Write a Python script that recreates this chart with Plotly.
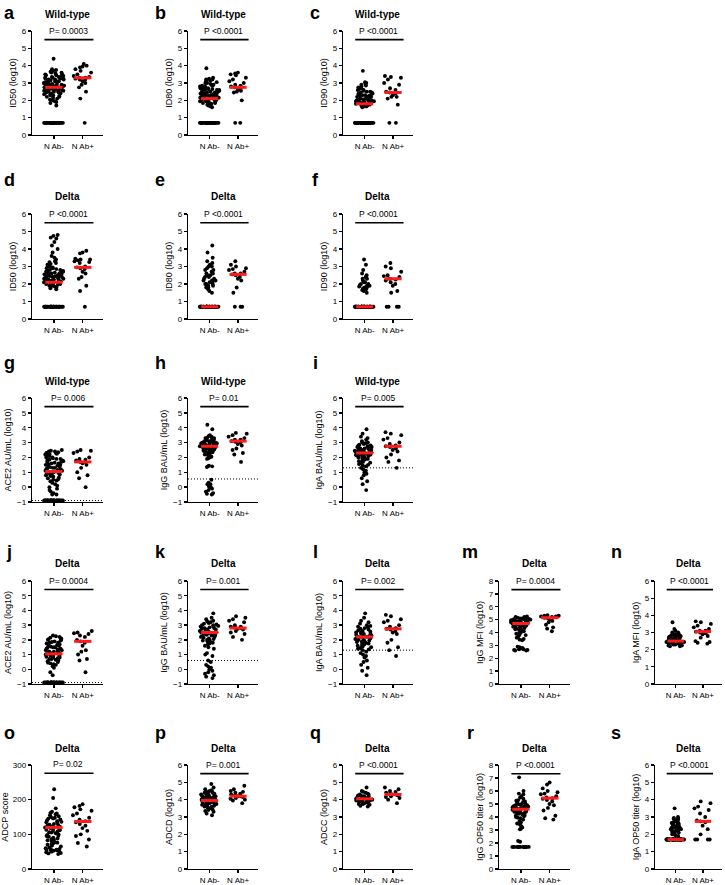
import plotly.graph_objects as go

# ---------------- data ----------------
groups = ["N Ab-", "N Ab+"]

a_neg = [4.4, 3.8, 3.75, 3.7, 3.7, 3.65, 3.6, 3.6, 3.55, 3.5, 3.5, 3.45, 3.45, 3.4, 3.4, 3.35, 3.35, 3.3, 3.3, 3.3,
         3.25, 3.25, 3.2, 3.2, 3.2, 3.15, 3.15, 3.1, 3.1, 3.1, 3.05, 3.05, 3.0, 3.0, 3.0, 3.0, 2.95, 2.95, 2.95, 2.9,
         2.9, 2.9, 2.9, 2.85, 2.85, 2.85, 2.8, 2.8, 2.8, 2.8, 2.75, 2.75, 2.75, 2.7, 2.7, 2.7, 2.7, 2.65, 2.65, 2.65,
         2.6, 2.6, 2.6, 2.55, 2.55, 2.55, 2.5, 2.5, 2.5, 2.45, 2.45, 2.4, 2.4, 2.35, 2.35, 2.3, 2.3, 2.25, 2.2, 2.2,
         2.15, 2.1, 2.05, 2.0, 1.95, 1.9, 1.85, 1.7] + [0.7] * 30
a_pos = [4.1, 4.0, 3.95, 3.9, 3.8, 3.7, 3.6, 3.5, 3.4, 3.35, 3.3, 3.3, 3.25, 3.2, 3.2, 3.1, 3.0, 2.9, 2.75, 2.5, 2.1, 0.7]

b_neg = [3.85, 3.3, 3.25, 3.2, 3.2, 3.15, 3.1, 3.05, 3.0, 3.0, 2.95, 2.9, 2.9, 2.85, 2.85, 2.8, 2.8, 2.75, 2.75, 2.7,
         2.7, 2.7, 2.65, 2.65, 2.6, 2.6, 2.6, 2.55, 2.55, 2.5, 2.5, 2.5, 2.45, 2.45, 2.4, 2.4, 2.4, 2.35, 2.35, 2.3,
         2.3, 2.3, 2.25, 2.25, 2.2, 2.2, 2.2, 2.15, 2.15, 2.1, 2.1, 2.1, 2.05, 2.05, 2.0, 2.0, 2.0, 1.95, 1.95, 1.9,
         1.9, 1.85, 1.85, 1.8, 1.8, 1.75, 1.7, 1.65, 1.6] + [0.7] * 32
b_pos = [3.6, 3.55, 3.5, 3.45, 3.3, 3.2, 3.1, 3.0, 2.9, 2.85, 2.8, 2.75, 2.7, 2.6, 2.55, 2.5, 2.45, 2.0, 0.7, 0.7]

c_neg = [3.7, 3.05, 3.0, 2.95, 2.9, 2.85, 2.8, 2.75, 2.7, 2.7, 2.65, 2.6, 2.6, 2.55, 2.5, 2.5, 2.45, 2.45, 2.4, 2.4,
         2.35, 2.35, 2.3, 2.3, 2.25, 2.25, 2.2, 2.2, 2.2, 2.15, 2.15, 2.1, 2.1, 2.05, 2.05, 2.0, 2.0, 2.0, 1.95, 1.95,
         1.95, 1.9, 1.9, 1.9, 1.85, 1.85, 1.85, 1.8, 1.8, 1.8, 1.75, 1.75, 1.7, 1.7, 1.65, 1.65, 1.6] + [0.7] * 35
c_pos = [3.4, 3.35, 3.3, 3.2, 3.0, 2.9, 2.7, 2.6, 2.5, 2.45, 2.4, 2.3, 2.2, 2.2, 2.1, 1.75, 0.7, 0.7]

d_neg = [4.8, 4.75, 4.65, 4.6, 4.4, 4.2, 4.0, 3.8, 3.6, 3.5, 3.4, 3.3, 3.25, 3.2, 3.15, 3.1, 3.05, 3.0, 3.0, 2.95,
         2.9, 2.9, 2.85, 2.8, 2.8, 2.75, 2.75, 2.7, 2.7, 2.65, 2.65, 2.6, 2.6, 2.6, 2.55, 2.55, 2.5, 2.5, 2.5, 2.45,
         2.45, 2.4, 2.4, 2.4, 2.35, 2.35, 2.3, 2.3, 2.3, 2.25, 2.25, 2.2, 2.2, 2.2, 2.15, 2.15, 2.1, 2.1, 2.05, 2.05,
         2.0, 2.0, 1.95, 1.95, 1.9, 1.9, 1.85, 1.8, 1.75, 1.7] + [0.7] * 30
d_pos = [3.9, 3.8, 3.75, 3.45, 3.4, 3.4, 3.35, 3.3, 3.25, 3.2, 3.0, 2.95, 2.9, 2.85, 2.7, 2.6, 2.4, 2.3, 1.9, 1.6, 0.7]

e_neg = [4.2, 3.8, 3.5, 3.3, 3.2, 3.1, 3.0, 3.0, 2.9, 2.8, 2.8, 2.7, 2.6, 2.6, 2.5, 2.5, 2.4, 2.4, 2.3, 2.3, 2.2,
         2.2, 2.2, 2.1, 2.1, 2.0, 2.0, 2.0, 1.9, 1.9, 1.8, 1.8, 1.7, 1.6, 1.5] + [0.7] * 40
e_pos = [3.3, 3.1, 3.0, 2.9, 2.85, 2.8, 2.7, 2.6, 2.6, 2.55, 2.5, 2.4, 2.3, 2.2, 1.8, 1.5, 0.7, 0.7, 0.7]

f_neg = [3.4, 3.1, 2.8, 2.6, 2.5, 2.4, 2.3, 2.3, 2.2, 2.1, 2.1, 2.0, 2.0, 1.95, 1.9, 1.9, 1.85, 1.8, 1.8, 1.75, 1.7,
         1.65, 1.6, 1.5] + [0.7] * 45
f_pos = [3.2, 3.0, 2.9, 2.7, 2.5, 2.45, 2.4, 2.3, 2.25, 2.2, 2.1, 2.0, 1.9, 1.6, 1.5, 0.7, 0.7, 0.7, 0.7]

g_neg = [2.5, 2.45, 2.4, 2.4, 2.35, 2.3, 2.3, 2.25, 2.2, 2.2, 2.15, 2.1, 2.05, 2.0, 2.0, 1.95, 1.9, 1.9, 1.85, 1.8,
         1.8, 1.75, 1.7, 1.7, 1.65, 1.6, 1.6, 1.55, 1.5, 1.5, 1.45, 1.4, 1.4, 1.35, 1.3, 1.3, 1.25, 1.2, 1.2, 1.15,
         1.1, 1.1, 1.05, 1.0, 1.0, 0.95, 0.9, 0.9, 0.85, 0.8, 0.8, 0.75, 0.7, 0.65, 0.6, 0.55, 0.5, 0.45, 0.4, 0.3,
         0.2, 0.1, 0.0, -0.1, -0.2, -0.3, -0.4, -0.5, -0.5] + [-0.9] * 25
g_pos = [2.5, 2.45, 2.4, 2.3, 2.0, 1.9, 1.85, 1.8, 1.7, 1.7, 1.6, 1.5, 1.3, 1.0, 0.8, 0.6, 0.0]

h_neg = [4.2, 3.9, 3.5, 3.45, 3.4, 3.35, 3.3, 3.3, 3.25, 3.2, 3.2, 3.15, 3.1, 3.1, 3.05, 3.0, 3.0, 3.0, 2.95, 2.95,
         2.9, 2.9, 2.9, 2.85, 2.85, 2.8, 2.8, 2.8, 2.75, 2.75, 2.75, 2.7, 2.7, 2.7, 2.65, 2.65, 2.6, 2.6, 2.55, 2.55,
         2.5, 2.5, 2.45, 2.4, 2.4, 2.35, 2.3, 2.25, 2.2, 2.15, 2.1, 2.05, 2.0, 1.95, 1.9, 1.45, 1.4, 1.4, 1.35, 0.5,
         0.3, 0.2, 0.2, 0.1, 0.0, 0.0, -0.1, -0.2, -0.3, -0.4, -0.45, -0.5]
h_pos = [3.65, 3.6, 3.5, 3.4, 3.3, 3.2, 3.2, 3.1, 3.05, 3.0, 2.9, 2.8, 2.6, 2.5, 2.3, 2.2, 1.7]

i_neg = [3.9, 3.6, 3.4, 3.3, 3.2, 3.1, 3.0, 3.0, 2.95, 2.9, 2.85, 2.8, 2.8, 2.75, 2.7, 2.7, 2.65, 2.6, 2.6, 2.55,
         2.5, 2.5, 2.5, 2.45, 2.45, 2.4, 2.4, 2.4, 2.35, 2.35, 2.3, 2.3, 2.3, 2.25, 2.25, 2.2, 2.2, 2.2, 2.15, 2.15,
         2.1, 2.1, 2.05, 2.0, 2.0, 1.95, 1.9, 1.9, 1.85, 1.8, 1.75, 1.7, 1.65, 1.6, 1.55, 1.5, 1.45, 1.4, 1.3, 1.2,
         1.1, 1.0, 0.9, 0.8, 0.6, 0.4, 0.2, -0.2]
i_pos = [3.7, 3.6, 3.5, 3.3, 3.2, 3.0, 2.9, 2.8, 2.75, 2.7, 2.6, 2.5, 2.4, 2.2, 2.0, 1.8, 1.7, 1.3]

j_neg = [2.3, 2.25, 2.2, 2.15, 2.1, 2.05, 2.0, 2.0, 1.95, 1.9, 1.85, 1.8, 1.8, 1.75, 1.7, 1.65, 1.6, 1.6, 1.55, 1.5,
         1.5, 1.45, 1.4, 1.4, 1.35, 1.3, 1.3, 1.25, 1.2, 1.2, 1.15, 1.1, 1.1, 1.05, 1.0, 1.0, 0.95, 0.9, 0.9, 0.85,
         0.8, 0.8, 0.75, 0.7, 0.7, 0.65, 0.6, 0.55, 0.5, 0.45, 0.4, 0.35, 0.3, 0.2, 0.1, -0.2, -0.4] + [-0.9] * 22
j_pos = [2.6, 2.5, 2.45, 2.4, 2.3, 2.2, 2.0, 1.9, 1.8, 1.6, 1.3, 1.2, 1.0, 0.7, 0.6, -0.2]

k_neg = [3.8, 3.5, 3.4, 3.3, 3.25, 3.2, 3.15, 3.1, 3.05, 3.0, 3.0, 2.95, 2.9, 2.9, 2.85, 2.8, 2.8, 2.75, 2.7, 2.7,
         2.65, 2.6, 2.6, 2.55, 2.5, 2.5, 2.5, 2.45, 2.4, 2.4, 2.35, 2.3, 2.3, 2.25, 2.2, 2.2, 2.15, 2.1, 2.05, 2.0,
         2.0, 1.95, 1.9, 1.85, 1.8, 1.75, 1.7, 1.6, 1.5, 1.4, 1.1, 1.0, 0.9, 0.6, 0.5, 0.3, 0.2, 0.1, 0.0, -0.1,
         -0.2, -0.3, -0.4, -0.5, -0.6]
k_pos = [3.6, 3.5, 3.4, 3.3, 3.2, 3.0, 2.9, 2.9, 2.85, 2.8, 2.75, 2.7, 2.6, 2.5, 2.4, 2.2, 2.0]

l_neg = [3.8, 3.5, 3.3, 3.2, 3.1, 3.0, 2.95, 2.9, 2.85, 2.8, 2.75, 2.7, 2.65, 2.6, 2.55, 2.5, 2.5, 2.45, 2.4, 2.4,
         2.35, 2.3, 2.3, 2.25, 2.2, 2.2, 2.2, 2.15, 2.1, 2.1, 2.05, 2.0, 2.0, 1.95, 1.9, 1.9, 1.85, 1.8, 1.8, 1.75,
         1.7, 1.65, 1.6, 1.55, 1.5, 1.45, 1.4, 1.35, 1.3, 1.2, 1.1, 1.0, 0.9, 0.8, 0.6, 0.5, 0.3, 0.1, -0.1, -0.4]
l_pos = [3.7, 3.6, 3.4, 3.3, 3.2, 3.0, 2.9, 2.8, 2.75, 2.7, 2.6, 2.5, 2.4, 2.0, 1.8, 1.5, 1.3, 0.9]

m_neg = [5.25, 5.2, 5.2, 5.15, 5.15, 5.1, 5.1, 5.05, 5.05, 5.0, 5.0, 5.0, 4.95, 4.95, 4.9, 4.9, 4.9, 4.85, 4.85, 4.8,
         4.8, 4.8, 4.75, 4.75, 4.7, 4.7, 4.7, 4.65, 4.65, 4.6, 4.6, 4.55, 4.55, 4.5, 4.5, 4.45, 4.4, 4.4, 4.35, 4.3,
         4.3, 4.25, 4.2, 4.15, 4.1, 4.0, 3.95, 3.9, 3.85, 3.8, 3.7, 3.6, 3.5, 3.45, 3.4, 2.9, 2.85, 2.8, 2.75, 2.7,
         2.7, 2.65, 2.65, 2.6, 2.6]
m_pos = [5.35, 5.3, 5.3, 5.25, 5.25, 5.2, 5.2, 5.15, 5.1, 5.1, 5.0, 4.9, 4.8, 4.6, 4.4, 4.3, 4.1]

n_neg = [3.6, 3.2, 3.1, 3.0, 3.0, 2.95, 2.9, 2.9, 2.85, 2.85, 2.8, 2.8, 2.75, 2.75, 2.7, 2.7, 2.7, 2.65, 2.65, 2.6,
         2.6, 2.6, 2.55, 2.55, 2.55, 2.5, 2.5, 2.5, 2.45, 2.45, 2.45, 2.4, 2.4, 2.4, 2.35, 2.35, 2.35, 2.3, 2.3, 2.3,
         2.25, 2.25, 2.2, 2.2]
n_pos = [3.65, 3.6, 3.5, 3.4, 3.3, 3.2, 3.1, 3.1, 3.05, 3.0, 2.95, 2.9, 2.8, 2.7, 2.5, 2.45, 2.4, 2.35]

o_neg = [230, 205, 175, 165, 162, 160, 158, 155, 152, 150, 148, 146, 145, 143, 140, 138, 136, 135, 133, 130, 128,
         127, 125, 123, 122, 120, 120, 118, 117, 115, 113, 112, 110, 108, 106, 105, 103, 100, 98, 96, 95, 93, 90, 88,
         86, 85, 83, 80, 78, 76, 75, 72, 70, 68, 65, 62, 60, 58, 57, 56, 55, 55, 54, 53, 52, 50, 48, 46, 45, 43]
o_pos = [187, 182, 178, 172, 168, 160, 155, 148, 142, 138, 135, 130, 125, 118, 110, 100, 95, 85, 75, 65]

p_neg = [4.9, 4.7, 4.6, 4.55, 4.5, 4.45, 4.4, 4.4, 4.35, 4.35, 4.3, 4.3, 4.25, 4.25, 4.2, 4.2, 4.2, 4.15, 4.15, 4.1,
         4.1, 4.1, 4.05, 4.05, 4.0, 4.0, 4.0, 3.95, 3.95, 3.95, 3.9, 3.9, 3.9, 3.85, 3.85, 3.8, 3.8, 3.8, 3.75, 3.75,
         3.7, 3.7, 3.65, 3.65, 3.6, 3.6, 3.55, 3.5, 3.5, 3.45, 3.4, 3.35, 3.3, 3.2, 3.1]
p_pos = [4.8, 4.6, 4.5, 4.45, 4.4, 4.35, 4.3, 4.25, 4.2, 4.2, 4.15, 4.1, 4.05, 4.0, 3.95, 3.8]

q_neg = [4.7, 4.5, 4.45, 4.4, 4.35, 4.3, 4.3, 4.25, 4.25, 4.2, 4.2, 4.2, 4.15, 4.15, 4.1, 4.1, 4.1, 4.05, 4.05, 4.05,
         4.0, 4.0, 4.0, 3.95, 3.95, 3.95, 3.9, 3.9, 3.85, 3.85, 3.8, 3.8, 3.75, 3.75, 3.7, 3.65, 3.6]
q_pos = [4.7, 4.6, 4.5, 4.45, 4.4, 4.35, 4.3, 4.3, 4.25, 4.2, 4.15, 4.1, 4.0, 3.8]

r_neg = [7.05, 6.0, 5.8, 5.75, 5.6, 5.5, 5.4, 5.3, 5.25, 5.2, 5.15, 5.1, 5.05, 5.0, 5.0, 4.95, 4.9, 4.9, 4.85, 4.8,
         4.8, 4.75, 4.75, 4.7, 4.7, 4.65, 4.65, 4.6, 4.6, 4.55, 4.55, 4.5, 4.5, 4.45, 4.4, 4.4, 4.35, 4.3, 4.3, 4.25,
         4.2, 4.15, 4.1, 4.05, 4.0, 3.95, 3.9, 3.8, 3.7, 3.6, 3.5, 3.4, 3.3, 3.2, 3.1, 3.05, 2.15, 2.1] + [1.7] * 16
r_pos = [6.65, 6.5, 6.2, 6.0, 5.9, 5.8, 5.75, 5.6, 5.5, 5.45, 5.4, 5.3, 5.2, 5.0, 4.9, 4.7, 4.5, 4.1, 3.9, 3.8]

s_neg = [3.5, 3.0, 2.95, 2.9, 2.9, 2.85, 2.8, 2.75, 2.7, 2.7, 2.65, 2.6, 2.6, 2.55, 2.5, 2.5, 2.45, 2.4, 2.4, 2.4,
         2.35, 2.3, 2.3, 2.3, 2.25, 2.2, 2.2, 2.2, 2.15, 2.1, 2.1, 2.05, 2.0, 2.0, 1.95, 1.9] + [1.7] * 40
s_pos = [3.9, 3.8, 3.6, 3.5, 3.4, 3.2, 3.0, 2.8, 2.75, 2.7, 2.5, 2.3, 2.0, 1.7, 1.7, 1.7, 1.7]

# medians (red bars): [N Ab-, N Ab+]
medians = {
    "a": [2.75, 3.3], "b": [2.1, 2.75], "c": [1.8, 2.45], "d": [2.1, 2.95], "e": [0.7, 2.55], "f": [0.7, 2.3],
    "g": [1.05, 1.7], "h": [2.75, 3.1], "i": [2.3, 2.75], "j": [1.05, 1.9], "k": [2.5, 2.8], "l": [2.2, 2.75],
    "m": [4.7, 5.15], "n": [2.5, 3.05], "o": [120, 137], "p": [3.95, 4.2], "q": [4.05, 4.3], "r": [4.6, 5.45],
    "s": [1.7, 2.75],
}
p_texts = {
    "a": "P= 0.0003", "b": "P <0.0001", "c": "P <0.0001", "d": "P <0.0001", "e": "P <0.0001", "f": "P <0.0001",
    "g": "P= 0.006", "h": "P= 0.01", "i": "P= 0.005", "j": "P= 0.0004", "k": "P= 0.001", "l": "P= 0.002",
    "m": "P= 0.0004", "n": "P <0.0001", "o": "P= 0.02", "p": "P= 0.001", "q": "P <0.0001", "r": "P <0.0001",
    "s": "P <0.0001",
}
y_titles = {
    "a": "ID50 (log10)", "b": "ID80 (log10)", "c": "ID90 (log10)", "d": "ID50 (log10)", "e": "ID80 (log10)",
    "f": "ID90 (log10)", "g": "ACE2 AU/mL (log10)", "h": "IgG BAU/mL (log10)", "i": "IgA BAU/mL (log10)",
    "j": "ACE2 AU/mL (log10)", "k": "IgG BAU/mL (log10)", "l": "IgA BAU/mL (log10)", "m": "IgG MFI (log10)",
    "n": "IgA MFI (log10)", "o": "ADCP score", "p": "ADCD (log10)", "q": "ADCC (log10)",
    "r": "IgG OP50 titer (log10)", "s": "IgA OP50 titer (log10)",
}
variants = {
    "a": "Wild-type", "b": "Wild-type", "c": "Wild-type", "d": "Delta", "e": "Delta", "f": "Delta",
    "g": "Wild-type", "h": "Wild-type", "i": "Wild-type", "j": "Delta", "k": "Delta", "l": "Delta",
    "m": "Delta", "n": "Delta", "o": "Delta", "p": "Delta", "q": "Delta", "r": "Delta", "s": "Delta",
}
# y-axis ranges, tick step, p-bar level, limit-of-detection line
y_ranges = {k: (0, 6) for k in "abcdefnpqs"}
y_ranges.update({k: (-1, 6) for k in "ghijkl"})
y_ranges.update({"m": (0, 8), "r": (0, 8), "o": (0, 300)})
y_dticks = {k: 1 for k in "abcdefghijklmnpqrs"}
y_dticks["o"] = 100
p_levels = {k: 5.5 for k in "abcdefnpqs"}
p_levels.update({k: 5.42 for k in "ghijkl"})
p_levels.update({"m": 7.33, "r": 7.33, "o": 276})
lod_lines = {"g": -0.9, "h": 0.55, "i": 1.3, "j": -0.9, "k": 0.6, "l": 1.3}

values = {
    "a": (a_neg, a_pos), "b": (b_neg, b_pos), "c": (c_neg, c_pos), "d": (d_neg, d_pos), "e": (e_neg, e_pos),
    "f": (f_neg, f_pos), "g": (g_neg, g_pos), "h": (h_neg, h_pos), "i": (i_neg, i_pos), "j": (j_neg, j_pos),
    "k": (k_neg, k_pos), "l": (l_neg, l_pos), "m": (m_neg, m_pos), "n": (n_neg, n_pos), "o": (o_neg, o_pos),
    "p": (p_neg, p_pos), "q": (q_neg, q_pos), "r": (r_neg, r_pos), "s": (s_neg, s_pos),
}
grid_pos = {
    "a": (0, 0), "b": (0, 1), "c": (0, 2), "d": (1, 0), "e": (1, 1), "f": (1, 2), "g": (2, 0), "h": (2, 1),
    "i": (2, 2), "j": (3, 0), "k": (3, 1), "l": (3, 2), "m": (3, 3), "n": (3, 4), "o": (4, 0), "p": (4, 1),
    "q": (4, 2), "r": (4, 3), "s": (4, 4),
}

# ---------------- layout (page pixels) ----------------
W, H = 725, 885
COLS = [(32, 103), (188, 258), (343, 413), (499, 570), (655, 722)]
ROWS = [(31, 135), (214, 319), (398, 502), (581, 684), (765, 869)]
TITLE_Y = [14, 197, 382, 563, 748]
LETTER_Y = [13, 180, 363, 552, 733]
LETTER_X = [9, 160, 315, 470, 616]
FONT = "Liberation Sans, Arial, sans-serif"
X_RANGE = [-0.76, 1.7]
MED_HALF = 0.3
BAR_X = (-0.33, 1.37)


def fx(px):
    return px / W


def fy(py):
    return 1 - py / H


fig = go.Figure()
layout = dict(
    width=W, height=H, margin=dict(l=0, r=0, t=0, b=0, autoexpand=False),
    paper_bgcolor="white", plot_bgcolor="white", showlegend=False,
    font=dict(family=FONT, color="black", size=8),
    boxmode="overlay",
)
annotations = []
shapes = []

for idx, key in enumerate("abcdefghijklmnopqrs"):
    n = idx + 1
    xa = "x" if n == 1 else f"x{n}"
    ya = "y" if n == 1 else f"y{n}"
    r, c = grid_pos[key]
    x0, x1 = COLS[c]
    yt, yb = ROWS[r]
    neg, pos = values[key]
    ymin, ymax = y_ranges[key]

    for gi, vals in enumerate((neg, pos)):
        fig.add_trace(go.Box(
            y=vals, x=[gi] * len(vals), xaxis=xa, yaxis=ya,
            boxpoints="all", jitter=1, pointpos=0, width=0.7,
            fillcolor="rgba(0,0,0,0)", line=dict(width=0, color="rgba(0,0,0,0)"),
            marker=dict(color="black", size=3.9), hoverinfo="y",
        ))
    for gi, m in enumerate(medians[key]):
        fig.add_trace(go.Scatter(
            x=[gi - MED_HALF, gi + MED_HALF], y=[m, m], mode="lines", xaxis=xa, yaxis=ya,
            line=dict(color="#ff1a1a", width=3), hoverinfo="skip", cliponaxis=False,
        ))

    layout["xaxis" if n == 1 else f"xaxis{n}"] = dict(
        domain=[fx(x0), min(fx(x1), 1.0)], anchor=ya, range=X_RANGE, automargin=False,
        tickvals=[0, 1], ticktext=groups, showgrid=False, zeroline=False,
        showline=True, linecolor="black", linewidth=1.3, ticks="outside", ticklen=3,
        tickwidth=1.3, tickcolor="black", tickfont=dict(size=8, color="black"), fixedrange=True,
    )
    layout["yaxis" if n == 1 else f"yaxis{n}"] = dict(
        domain=[fy(yb), fy(yt)], anchor=xa, range=[ymin, ymax], dtick=y_dticks[key],
        tick0=ymin, showgrid=False, zeroline=False, showline=True, linecolor="black", automargin=False,
        linewidth=1.3, ticks="outside", ticklen=3, tickwidth=1.3, tickcolor="black",
        tickfont=dict(size=8, color="black"),
        title=dict(text=y_titles[key], font=dict(size=9, color="black"), standoff=3),
        fixedrange=True,
    )

    # p-value bar and text
    shapes.append(dict(type="line", xref=xa, yref=ya, x0=BAR_X[0], x1=BAR_X[1],
                       y0=p_levels[key], y1=p_levels[key], line=dict(color="black", width=1.6)))
    annotations.append(dict(xref=xa, yref=ya, x=0.5, y=p_levels[key], text=p_texts[key],
                            showarrow=False, yanchor="bottom", yshift=2, font=dict(size=8.5)))
    # limit-of-detection dotted line
    if key in lod_lines:
        shapes.append(dict(type="line", xref=f"{xa} domain", yref=ya, x0=0, x1=1,
                           y0=lod_lines[key], y1=lod_lines[key],
                           line=dict(color="black", width=1, dash="1px,2px")))
    # title and panel letter
    annotations.append(dict(xref="paper", yref="paper", x=fx((x0 + x1) / 2), y=fy(TITLE_Y[r]),
                            text=f"<b>{variants[key]}</b>", showarrow=False, xanchor="center",
                            yanchor="middle", font=dict(size=10)))
    annotations.append(dict(xref="paper", yref="paper", x=fx(LETTER_X[c]), y=fy(LETTER_Y[r]),
                            text=f"<b>{key}</b>", showarrow=False, xanchor="center",
                            yanchor="middle", font=dict(size=18)))

layout["annotations"] = annotations
layout["shapes"] = shapes
fig.update_layout(**layout)
fig.write_html("out.html", config={"displayModeBar": False, "staticPlot": True},
               post_script="document.body.style.margin='0px';")
